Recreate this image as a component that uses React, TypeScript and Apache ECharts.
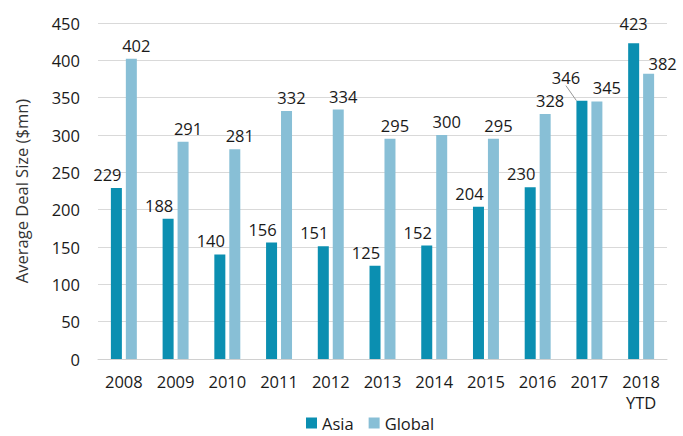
import React, { useEffect, useRef } from "react";
import * as echarts from "echarts";

const categories = ["2008", "2009", "2010", "2011", "2012", "2013", "2014", "2015", "2016", "2017", "2018\nYTD"];
const asia = [229, 188, 140, 156, 151, 125, 152, 204, 230, 346, 423];
const global = [402, 291, 281, 332, 334, 295, 300, 295, 328, 345, 382];
const yTicks = { min: 0, max: 450, interval: 50 };

const asiaShift: [number, number][] = categories.map((_, i) =>
  i === 9 ? [-16, -10] : i === 10 ? [0, -6] : [-9, 0]
);
const globalShift: [number, number][] = categories.map((_, i) =>
  i === 9 ? [10, 0] : i === 10 ? [14, 3] : [5, 0]
);

export default function App() {
  const ref = useRef<HTMLDivElement>(null);
  useEffect(() => {
    const chart = echarts.init(ref.current!, null, { renderer: "svg" });
    const font = "'Open Sans', sans-serif";
    const fs = 16.5;
    const txt = "#1a1a1a";
    chart.setOption({
      animation: false,
      textStyle: { fontFamily: font },
      grid: { left: 98, right: 16, top: 23, bottom: 77 },
      legend: {
        bottom: 4,
        left: 306,
        padding: 0,
        itemWidth: 11,
        itemHeight: 11,
        itemGap: 15,
        icon: "rect",
        textStyle: { fontSize: fs, lineHeight: 18, color: txt, fontFamily: font },
        data: ["Asia", "Global"],
      },
      xAxis: {
        type: "category",
        data: categories,
        axisLine: { lineStyle: { color: "#d0d0d0" } },
        axisTick: { show: false },
        axisLabel: { color: txt, fontSize: fs, margin: 12, lineHeight: 21, fontFamily: font },
      },
      yAxis: {
        type: "value",
        ...yTicks,
        name: "Average Deal Size ($mn)",
        nameLocation: "middle",
        nameGap: 68,
        nameTextStyle: { color: "#333", fontSize: fs, fontFamily: font },
        axisLine: { show: false },
        axisTick: { show: false },
        splitLine: { lineStyle: { color: "#d9d9d9" } },
        axisLabel: { color: txt, fontSize: fs, margin: 18, fontFamily: font },
      },
      series: [
        {
          name: "Asia",
          type: "bar",
          data: asia.map((v, i) => (i === 9 ? { value: v, labelLine: { show: true } } : v)),
          barWidth: 11,
          barGap: "36%",
          itemStyle: { color: "#0b8fb1" },
          label: { show: true, position: "top", distance: 5, color: txt, fontSize: fs, fontFamily: font },
          labelLine: { show: false, lineStyle: { color: "#999", width: 1 } },
          labelLayout: (p: any) => ({ dx: asiaShift[p.dataIndex][0], dy: asiaShift[p.dataIndex][1] }),
        },
        {
          name: "Global",
          type: "bar",
          data: global,
          barWidth: 11,
          itemStyle: { color: "#88bfd6" },
          label: { show: true, position: "top", distance: 5, color: txt, fontSize: fs, fontFamily: font },
          labelLayout: (p: any) => ({ dx: globalShift[p.dataIndex][0], dy: globalShift[p.dataIndex][1] }),
        },
      ],
    });
    return () => chart.dispose();
  }, []);
  return <div ref={ref} style={{ width: 683, height: 436, position: "absolute", left: 0, top: 0 }} />;
}
